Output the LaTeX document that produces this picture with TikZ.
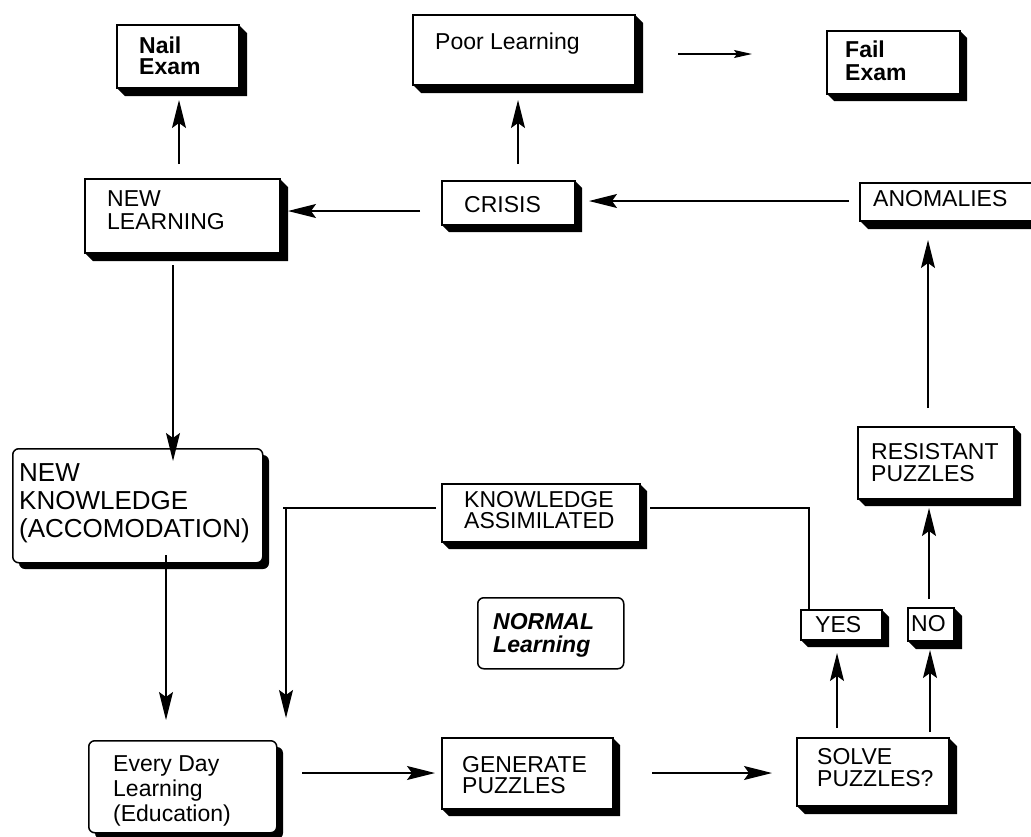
\documentclass[tikz,border=0pt]{standalone}
\usepackage{fontspec}
\setmainfont{Liberation Sans}
\usetikzlibrary{arrows.meta}
\tikzset{
  boxface/.style={draw=black, fill=white, line width=1.8pt, inner sep=0pt, anchor=north west},
  rboxface/.style={draw=black, fill=white, line width=1.5pt, inner sep=0pt, anchor=north west, rounded corners=6pt},
  lbl/.style={anchor=north west, inner sep=0pt, align=left, font=\fontsize{23}{22}\selectfont},
  conn/.style={line width=1.3pt},
  arr/.style={line width=1.3pt, -{Stealth[length=28pt,width=14pt,inset=5pt]}},
  smallarr/.style={line width=1.3pt, -{Stealth[length=18pt,width=8pt,inset=3pt]}}
}
% shadowed box: name, x0, y0, x1, y1, depth
\newcommand\shadowbox[6]{%
  \fill[black] (#4,#3) -- ({#4+#6},{#3+#6}) -- ({#4+#6},{#5+#6}) -- ({#2+#6},{#5+#6}) -- (#2,#5) -- cycle;
  \node[boxface, minimum width={(#4-#2)*1pt}, minimum height={(#5-#3)*1pt}] (#1) at (#2,#3) {};
}
\newcommand\roundshadowbox[6]{%
  \fill[black, rounded corners=6pt] ({#2+#6},{#3+#6}) rectangle ({#4+#6},{#5+#6});
  \node[rboxface, minimum width={(#4-#2)*1pt}, minimum height={(#5-#3)*1pt}] (#1) at (#2,#3) {};
}
\begin{document}
\begin{tikzpicture}[x=1pt,y=-1pt]
\useasboundingbox (0,0) rectangle (1031,836);

% boxes
\shadowbox{nail}{116}{24}{238}{87}{9}
\shadowbox{poor}{412}{14}{634}{84}{9}
\shadowbox{fail}{826}{30}{959}{93}{8}
\shadowbox{newl}{84}{178}{279}{252}{9}
\shadowbox{crisis}{441}{180}{574}{224}{8}
\shadowbox{anom}{859}{182}{1040}{220}{9}
\shadowbox{resist}{857}{426}{1013}{498}{8}
\shadowbox{ka}{441}{483}{639}{541}{8}
\shadowbox{yes}{800}{609}{881}{639}{8}
\shadowbox{no}{907}{607}{953}{640}{9}
\shadowbox{gen}{441}{737}{612}{808}{8}
\shadowbox{solve}{796}{737}{948}{805}{9}
\roundshadowbox{newk}{12}{448}{262}{562}{7}
\roundshadowbox{every}{88}{740}{276}{832}{7}
\node[rboxface, minimum width=146pt, minimum height=71pt] (normal) at (477,597) {};

% labels
\node[lbl, font=\fontsize{23}{21}\selectfont\bfseries] (nailt) at (139,36.5) {Nail\\Exam};
\node[lbl] (poort) at (435,32.5) {Poor Learning};
\node[lbl, font=\fontsize{23}{23}\selectfont\bfseries] (failt) at (845,40.5) {Fail\\Exam};
\node[lbl, font=\fontsize{23}{23}\selectfont] (newlt) at (107,190.5) {NEW\\LEARNING};
\node[lbl] (crisist) at (464,196.5) {CRISIS};
\node[lbl] (anomt) at (873,190.5) {ANOMALIES};
\node[lbl] (resistt) at (871,443.5) {RESISTANT\\PUZZLES};
\node[lbl, font=\fontsize{26}{28}\selectfont] (newkt) at (19,463.4) {NEW\\KNOWLEDGE\\(ACCOMODATION)};
\node[lbl, font=\fontsize{23}{21}\selectfont] (kat) at (464,491.5) {KNOWLEDGE\\ASSIMILATED};
\node[lbl, font=\fontsize{23}{23}\selectfont\bfseries\itshape] (normalt) at (493,613.5) {NORMAL\\Learning};
\node[lbl] (yest) at (815,616.5) {YES};
\node[lbl] (not) at (911,615.5) {NO};
\node[lbl, font=\fontsize{23}{25}\selectfont] (everyt) at (113,755.5) {Every Day\\Learning\\(Education)};
\node[lbl, font=\fontsize{23}{21}\selectfont] (gent) at (462,756.5) {GENERATE\\PUZZLES};
\node[lbl] (solvet) at (817,748.5) {SOLVE\\PUZZLES?};

% connector end points
\coordinate (a1s) at (179,164); \coordinate (a1e) at (179,100);
\coordinate (a2s) at (518,164); \coordinate (a2e) at (518,100);
\coordinate (a3s) at (678,54);  \coordinate (a3e) at (752,54);
\coordinate (a4s) at (420,211); \coordinate (a4e) at (288,211);
\coordinate (a5s) at (849,201); \coordinate (a5e) at (589,201);
\coordinate (a6s) at (928,408); \coordinate (a6e) at (928,240);
\coordinate (a7s) at (173,265); \coordinate (a7e) at (173,461);
\coordinate (a8s) at (166,555); \coordinate (a8e) at (166,720);
\coordinate (a9s) at (436,508); \coordinate (a9m) at (286,508); \coordinate (a9e) at (286,718);
\coordinate (a10s) at (809,609); \coordinate (a10m) at (809,508); \coordinate (a10e) at (650,508);
\coordinate (a11s) at (302,773); \coordinate (a11e) at (435,773);
\coordinate (a12s) at (652,773); \coordinate (a12e) at (772,773);
\coordinate (a13s) at (837,728); \coordinate (a13e) at (837,653);
\coordinate (a14s) at (930,732); \coordinate (a14e) at (930,650);
\coordinate (a15s) at (929,599); \coordinate (a15e) at (929,508);

% connectors
\draw[arr] (a1s) -- (a1e);
\draw[arr] (a2s) -- (a2e);
\draw[smallarr] (a3s) -- (a3e);
\draw[arr] (a4s) -- (a4e);
\draw[arr] (a5s) -- (a5e);
\draw[arr] (a6s) -- (a6e);
\draw[arr] (a7s) -- (a7e);
\draw[arr] (a8s) -- (a8e);
\draw[conn] (a9s) -- (283,508);
\draw[arr] (a9m) -- (a9e);
\draw[conn] (a10s) -- (a10m) -- (a10e);
\draw[arr] (a11s) -- (a11e);
\draw[arr] (a12s) -- (a12e);
\draw[arr] (a13s) -- (a13e);
\draw[arr] (a14s) -- (a14e);
\draw[arr] (a15s) -- (a15e);
\end{tikzpicture}
\end{document}
